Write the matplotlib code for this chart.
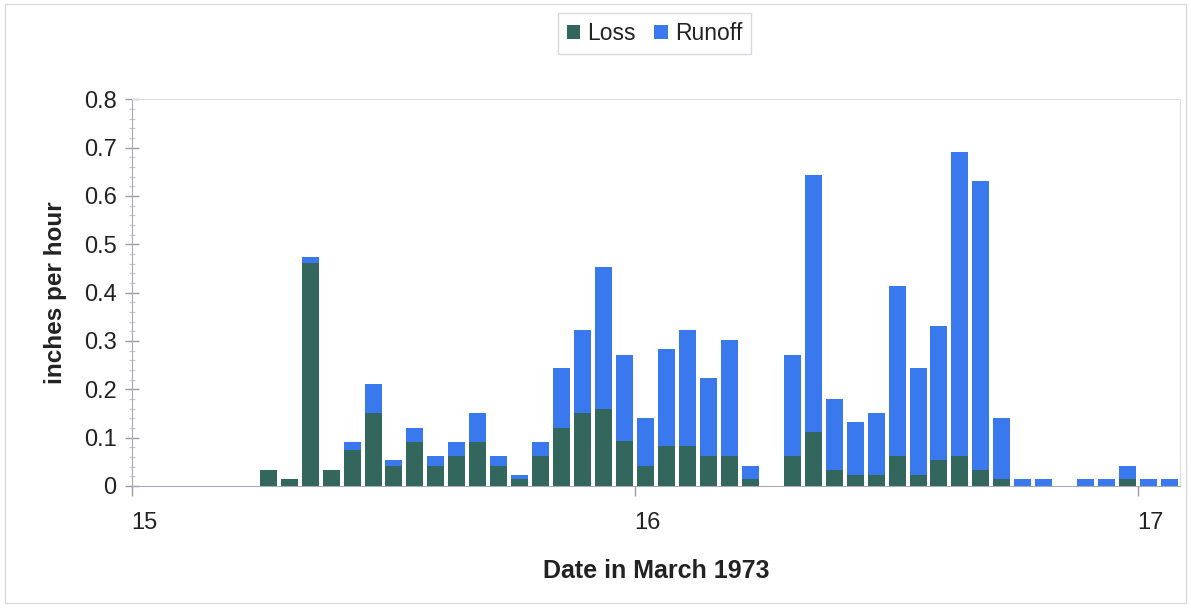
import matplotlib
matplotlib.use('Agg')
import matplotlib.pyplot as plt
import matplotlib.transforms as mtransforms
from matplotlib.patches import Rectangle
from matplotlib.ticker import MultipleLocator
import numpy as np

plt.rcParams['font.family'] = ['Liberation Sans', 'DejaVu Sans']

# hourly values starting at 00:00 on 15 March 1973 (inches per hour)
hours = np.arange(50)
loss = [0, 0, 0, 0, 0, 0,
        0.033, 0.014, 0.462, 0.033, 0.074, 0.152, 0.041, 0.092, 0.041, 0.061,
        0.092, 0.041, 0.014, 0.061, 0.120, 0.152, 0.159, 0.093, 0.041, 0.082,
        0.082, 0.062, 0.062, 0.014, 0,
        0.062, 0.112, 0.034, 0.022, 0.022, 0.062, 0.022, 0.054, 0.062, 0.034,
        0.014, 0, 0, 0, 0, 0, 0.014, 0, 0]
runoff = [0, 0, 0, 0, 0, 0,
          0, 0, 0.011, 0, 0.018, 0.059, 0.013, 0.028, 0.020, 0.031,
          0.060, 0.020, 0.008, 0.031, 0.124, 0.171, 0.295, 0.178, 0.099, 0.201,
          0.241, 0.162, 0.241, 0.027, 0,
          0.209, 0.531, 0.146, 0.110, 0.130, 0.352, 0.222, 0.277, 0.628, 0.596,
          0.127, 0.014, 0.014, 0, 0.014, 0.014, 0.027, 0.014, 0.014]
day_ticks = [15, 16, 17]

loss = np.array(loss)
runoff = np.array(runoff)
x = 15 + (hours + 0.5) / 24.0

loss_color = '#33665c'
runoff_color = '#3a78ee'

fig = plt.figure(figsize=(11.91, 6.08), dpi=100)
ax = fig.add_axes([0.1108, 0.2007, 0.8800, 0.6360])

bar_w = 0.81 / 24
mask = (loss + runoff) > 0
ax.bar(x[mask], loss[mask], width=bar_w, color=loss_color, label='Loss')
ax.bar(x[mask], runoff[mask], width=bar_w, bottom=loss[mask], color=runoff_color, label='Runoff')

ax.set_xlim(15, 15 + 50 / 24.0)
ax.set_ylim(0, 0.8)
ax.set_xticks(day_ticks)
ax.set_xticklabels([str(d) for d in day_ticks])
ax.yaxis.set_major_locator(MultipleLocator(0.1))
ax.yaxis.set_minor_locator(MultipleLocator(0.02))
ax.set_yticklabels(['0' if v == 0 else f'{v:.1f}' for v in ax.get_yticks()])

ax.tick_params(axis='y', which='major', direction='inout', length=10, width=1,
               color='#9a9aaa', labelsize=17, labelcolor='#222222', pad=6)
ax.tick_params(axis='y', which='minor', direction='inout', length=5, width=0.8,
               color='#c4c4d2')
ax.tick_params(axis='x', which='major', direction='out', length=7, width=1,
               color='#9a9aaa', labelsize=17, labelcolor='#222222', pad=12)

# tick labels sit a little to the right of the tick marks
offset = mtransforms.ScaledTranslation(0.12, 0, fig.dpi_scale_trans)
for lab in ax.get_xticklabels():
    lab.set_transform(lab.get_transform() + offset)

for side in ['left', 'bottom']:
    ax.spines[side].set_color('#a8a8b8')
for side in ['top', 'right']:
    ax.spines[side].set_color('#dcdce6')

ax.set_xlabel('Date in March 1973', fontsize=18, fontweight='bold', color='#222222', labelpad=18)
ax.set_ylabel('inches per hour', fontsize=17.5, fontweight='bold', color='#222222', labelpad=12)

leg = fig.legend(loc='center', bbox_to_anchor=(0.5495, 0.945), ncol=2, fontsize=16.5,
                 frameon=True, fancybox=False, handlelength=0.6, handleheight=0.6,
                 handletextpad=0.3, columnspacing=0.8, borderpad=0.4)
leg.get_frame().set_edgecolor('#cfcfdc')
leg.get_frame().set_linewidth(1)
for t in leg.get_texts():
    t.set_color('#222222')

fig.patches.append(Rectangle((0.004, 0.008), 0.992, 0.986, transform=fig.transFigure,
                             fill=False, edgecolor='#dadae4', linewidth=1))

fig.savefig('out.png', dpi=100)
plt.close(fig)
